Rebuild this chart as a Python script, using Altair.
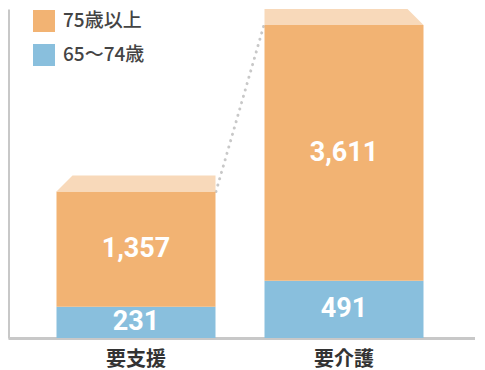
import altair as alt
import pandas as pd

categories = ["要支援", "要介護"]
groups = ["75歳以上", "65〜74歳"]
young_vals = [231, 491]
old_vals = [1357, 3611]
cap_paths = [
    "M -79.5 0 L -63.5 -16 L 79.5 -16 L 79.5 0 Z",
    "M -79.5 0 L -79.5 -16 L 63.5 -16 L 79.5 0 Z",
]

ORANGE = "#F2B373"
BLUE = "#89BFDD"
CAP = "#F8D9BA"
GRAY = "#C8C8C8"
CJK = "Noto Sans CJK JP"

rows = []
for c, y, o in zip(categories, young_vals, old_vals):
    rows.append({"category": c, "group": groups[1], "value": y, "ord": 0, "label": f"{y:,}"})
    rows.append({"category": c, "group": groups[0], "value": o, "ord": 1, "label": f"{o:,}"})
df = pd.DataFrame(rows)

totals = pd.DataFrame({
    "category": categories,
    "total": [y + o for y, o in zip(young_vals, old_vals)],
    "cap": ["a", "b"],
})
conn = pd.DataFrame({
    "c1": [categories[0]], "c2": [categories[1]],
    "t1": [young_vals[0] + old_vals[0]], "t2": [young_vals[1] + old_vals[1]],
})

EXP = 0.8
yscale = alt.Scale(type="pow", exponent=EXP, domain=[0, 4365], nice=False)
xscale = alt.Scale(domain=categories, paddingInner=0.2356, paddingOuter=0.2404, align=0.485)

xenc = alt.X("category:N", scale=xscale, sort=categories,
             axis=alt.Axis(title=None, labelAngle=0, labelAlign="center",
                           labelBaseline="top", labelFontSize=20, labelFont=CJK,
                           labelFontWeight="bold", labelColor="#333333", ticks=False,
                           domainColor=GRAY, domainWidth=3, labelPadding=11,
                           labelOverlap=False, labelBound=False))

base = alt.Chart(df).transform_stack(
    stack="value", groupby=["category"], as_=["y0", "y1"],
    sort=[alt.SortField("ord", order="ascending")]
).transform_calculate(
    mid=f"pow((pow(datum.y0,{EXP})+pow(datum.y1,{EXP}))/2,{1/EXP})"
)

bars = base.mark_bar().encode(
    x=xenc,
    y=alt.Y("y0:Q", scale=yscale,
            axis=alt.Axis(title=None, labels=False, ticks=False, grid=False,
                          domainColor=GRAY, domainWidth=3)),
    y2="y1:Q",
    color=alt.Color("group:N", scale=alt.Scale(domain=groups, range=[ORANGE, BLUE]),
                    legend=alt.Legend(title=None, orient="none", legendX=25, legendY=1,
                                      symbolType="square", symbolSize=484,
                                      symbolStrokeWidth=0, symbolOpacity=1,
                                      labelFontSize=19, labelFont=CJK,
                                      labelColor="#444444", labelFontWeight=500,
                                      labelOffset=8, rowPadding=12)),
)

texts = base.mark_text(color="white", fontSize=27, fontWeight="bold",
                       font="Roboto", baseline="middle").encode(
    x=alt.X("category:N", scale=xscale, sort=categories),
    y=alt.Y("mid:Q", scale=yscale),
    text="label:N",
)

caps = alt.Chart(totals).mark_point(filled=True, size=4, opacity=1, color=CAP,
                                     strokeWidth=0).encode(
    x=alt.X("category:N", scale=xscale, sort=categories),
    y=alt.Y("total:Q", scale=yscale),
    shape=alt.Shape("cap:N", scale=alt.Scale(domain=["a", "b"], range=cap_paths),
                    legend=None),
)

connector = alt.Chart(conn).mark_rule(
    color=GRAY, strokeWidth=3, strokeDash=[0.1, 6.5], strokeCap="round",
    xOffset=80, x2Offset=-80
).encode(
    x=alt.X("c1:N", scale=xscale),
    x2="c2:N",
    y=alt.Y("t1:Q", scale=yscale),
    y2="t2:Q",
)

chart = alt.layer(connector, bars, caps, texts).properties(
    width=467, height=329, padding={"left": 0, "top": 0, "right": 0, "bottom": 0}
).configure_view(stroke=None)

chart.save("out.html", embed_options={"renderer": "svg", "actions": False})
